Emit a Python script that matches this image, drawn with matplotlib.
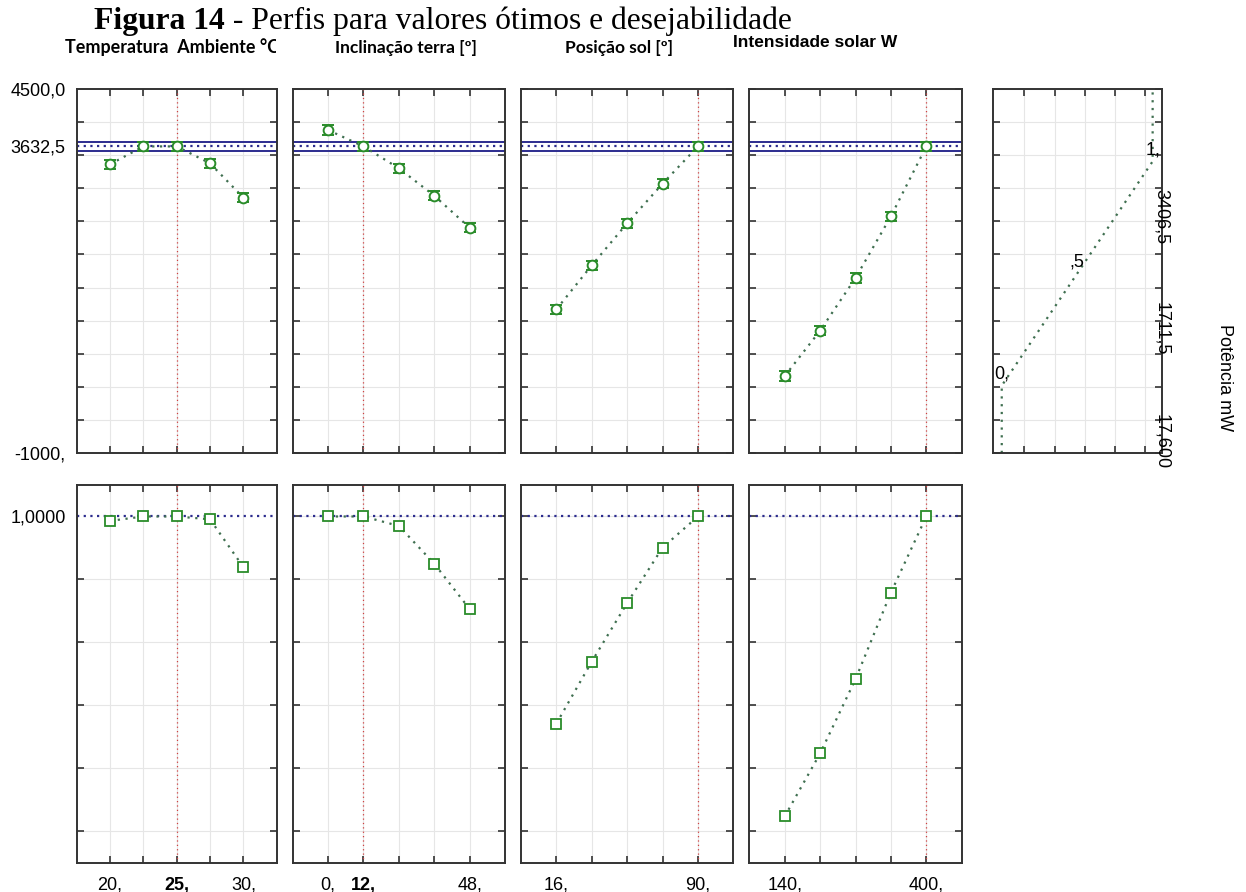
"""Figura 14 - perfis para valores otimos e desejabilidade (Statistica style)."""

import matplotlib

matplotlib.use("Agg")
import matplotlib.pyplot as plt
import numpy as np
from matplotlib.ticker import MultipleLocator
from matplotlib.transforms import Bbox, TransformedBbox, blended_transform_factory


# --- data -----------------------------------------------------------------
FACTOR_NAMES = [
    "Temperatura  Ambiente °C",
    "Inclinação terra [º]",
    "Posição sol [º]",
    "Intensidade solar W",
]

TEMP_X = [20, 22.5, 25, 27.5, 30]
INCL_X = [0, 12, 24, 36, 48]
SOL_X = [16, 34.5, 53, 71.5, 90]
INT_X = [140, 205, 270, 335, 400]

TEMP_POWER = [3362, 3632.5, 3632.5, 3377, 2858]
INCL_POWER = [3880, 3632.5, 3302, 2888, 2404]
SOL_POWER = [1171, 1836, 2471, 3069, 3632.5]
INT_POWER = [163, 848, 1644, 2576, 3632.5]
POWER_ERR = [70, 70, 70, 70, 70]

TEMP_DESIR = [0.986, 1.0, 1.0, 0.991, 0.839]
INCL_DESIR = [1.0, 1.0, 0.970, 0.850, 0.706]
SOL_DESIR = [0.342, 0.539, 0.725, 0.901, 1.0]
INT_DESIR = [0.047, 0.247, 0.483, 0.758, 1.0]

OPTIMUM_X = [25, 12, 90, 400]

TEMP_LABELS = ["20,", "", "25,", "", "30,"]
INCL_LABELS = ["0,", "12,", "", "", "48,"]
SOL_LABELS = ["16,", "", "", "", "90,"]
INT_LABELS = ["140,", "", "", "", "400,"]
BOLD_LABELS = ["25,", "12,", None, None]

POWER_LIM = (-1000, 4500)
POWER_OPT = 3632.5
POWER_CI = (3563, 3700)
POWER_TICKS = [-1000, 3632.5, 4500]
POWER_TICK_LABELS = ["-1000,", "3632,5", "4500,0"]

DESIR_LIM = (-0.1, 1.1)
DESIR_OPT = 1.0
DESIR_TICK_LABEL = "1,0000"

# desirability function of the response (right panel)
DESIR_LEVELS = [0, 0.5, 1]
DESIR_POWER = [17.6, 1711.5, 3406.5]
DESIR_LEVEL_LABELS = ["0,", ",5", "1,"]
DESIR_POWER_LABELS = ["17,600", "1711,5", "3406,5"]
DESIR_XTICKS = [0.15, 0.35, 0.55, 0.75, 0.95]

RESPONSE_NAME = "Potência mW"

# --- layout (pixels of the 1246x892 image) --------------------------------
W, H = 1246, 892
COL_LEFT = [76.7, 292.7, 521.0, 749.3]
COL_WIDTH = [200.0, 212.3, 212.3, 212.4]
TOP_ROW = (89.0, 453.0)
BOT_ROW = (485.0, 862.7)
DESIR_COL = (992.7, 169.0)

MARKER_GREEN = "#2a8c2a"
LINE_GREEN = "#3f6f50"
BLUE = "#2c2c8e"
RED = "#d04040"
GRID = "#e6e6e6"
SPINE = "#333333"

plt.rcParams["font.family"] = ["Liberation Sans", "DejaVu Sans"]


def px_rect(left, width, top, bottom):
    return [left / W, 1 - bottom / H, width / W, (bottom - top) / H]


def style_axis(axis, xticks):
    axis.set_xticks(xticks)
    axis.grid(True, axis="x", which="major", color=GRID, lw=0.8)
    axis.grid(True, axis="y", which="minor", color=GRID, lw=0.8)
    axis.set_axisbelow(True)
    axis.tick_params(which="both", direction="in", top=True, right=True,
                     length=5, width=1.2, color=SPINE, labelsize=13)
    axis.tick_params(axis="y", which="major", length=0, pad=8)
    axis.tick_params(axis="x", which="major", pad=10)
    for spine in axis.spines.values():
        spine.set_color(SPINE)
        spine.set_linewidth(1.4)


def xlim_from(xs):
    step = xs[1] - xs[0]
    return xs[0] - step, xs[-1] + step


fig = plt.figure(figsize=(W / 100, H / 100), dpi=100)

columns = [
    (TEMP_X, TEMP_POWER, TEMP_DESIR, TEMP_LABELS),
    (INCL_X, INCL_POWER, INCL_DESIR, INCL_LABELS),
    (SOL_X, SOL_POWER, SOL_DESIR, SOL_LABELS),
    (INT_X, INT_POWER, INT_DESIR, INT_LABELS),
]

for i, (xs, power, desir, labels) in enumerate(columns):
    # top row: predicted response
    top = fig.add_axes(px_rect(COL_LEFT[i], COL_WIDTH[i], *TOP_ROW))
    top.set_xlim(xlim_from(xs))
    top.set_ylim(POWER_LIM)
    top.yaxis.set_minor_locator(MultipleLocator(500))
    style_axis(top, xs)
    top.set_xticklabels([])
    if i == 0:
        top.set_yticks(POWER_TICKS, POWER_TICK_LABELS)
    else:
        top.set_yticks([])
    top.axhline(POWER_OPT, color=BLUE, lw=1.6, ls=(0, (1, 2)))
    for level in POWER_CI:
        top.axhline(level, color=BLUE, lw=1.4)
    top.axvline(OPTIMUM_X[i], color=RED, lw=0.9, ls=(0, (1, 2.5)))
    top.plot(xs, power, color=LINE_GREEN, lw=1.6, ls=(0, (1, 2.5)))
    top.errorbar(xs, power, yerr=POWER_ERR, fmt="o", ms=7, mfc="white",
                 mec=MARKER_GREEN, mew=1.4, ecolor=MARKER_GREEN,
                 elinewidth=1.3, capsize=4.5, capthick=1.3, zorder=5)

    # bottom row: desirability
    bot = fig.add_axes(px_rect(COL_LEFT[i], COL_WIDTH[i], *BOT_ROW))
    bot.set_xlim(xlim_from(xs))
    bot.set_ylim(DESIR_LIM)
    bot.yaxis.set_minor_locator(MultipleLocator(0.2))
    style_axis(bot, xs)
    bot.set_xticklabels(labels)
    for tick_label in bot.get_xticklabels():
        if tick_label.get_text() == BOLD_LABELS[i]:
            tick_label.set_fontweight("bold")
    if i == 0:
        bot.set_yticks([DESIR_OPT], [DESIR_TICK_LABEL])
    else:
        bot.set_yticks([])
    bot.axhline(DESIR_OPT, color=BLUE, lw=1.6, ls=(0, (1, 2)))
    bot.axvline(OPTIMUM_X[i], color=RED, lw=0.9, ls=(0, (1, 2.5)))
    bot.plot(xs, desir, color=LINE_GREEN, lw=1.6, ls=(0, (1, 2.5)))
    bot.plot(xs, desir, ls="none", marker="s", ms=7, mfc="white",
             mec=MARKER_GREEN, mew=1.3, zorder=5)

# right panel: desirability function of the response
right = fig.add_axes(px_rect(DESIR_COL[0], DESIR_COL[1], *TOP_ROW))
right.set_xlim(-0.06, 1.06)
right.set_ylim(POWER_LIM)
right.yaxis.set_minor_locator(MultipleLocator(500))
style_axis(right, DESIR_XTICKS)
right.set_xticklabels([])
right.set_yticks([])
curve_x = [DESIR_LEVELS[0]] + DESIR_LEVELS[::2] + [DESIR_LEVELS[-1]]
curve_y = [POWER_LIM[0], DESIR_POWER[0], DESIR_POWER[-1], POWER_LIM[1]]
right.plot(curve_x, curve_y, color=LINE_GREEN, lw=1.6, ls=(0, (1, 2.5)),
           clip_on=False)
for level, value, text in zip(DESIR_LEVELS, DESIR_POWER, DESIR_LEVEL_LABELS):
    right.annotate(text, (level, value), xytext=(0, 2), textcoords="offset points",
                   ha="center", va="bottom", fontsize=13)
edge = blended_transform_factory(right.transAxes, right.transData)
for value, text in zip(DESIR_POWER, DESIR_POWER_LABELS):
    right.annotate(text, (1, value), xycoords=edge, xytext=(0, -40),
                   textcoords="offset points", rotation=-90,
                   ha="center", va="center", fontsize=13)

fig.text(1225 / W, 1 - 378 / H, RESPONSE_NAME, rotation=-90, ha="center",
         va="center", fontsize=13)

# factor titles
title_specs = [
    (65, 53, "Lato", 12.9),
    (335, 53, "Lato", 12.5),
    (565, 53, "Lato", 12.5),
    (733, 47, "Liberation Sans", 12.5),
]
for name, (x_px, base_px, family, size) in zip(FACTOR_NAMES, title_specs):
    label = fig.text(x_px / W, 1 - base_px / H, name, family=family,
                     fontsize=size, fontweight="bold", va="baseline")
    if name == FACTOR_NAMES[0]:
        clip = Bbox.from_extents(0, 0, (COL_LEFT[0] + COL_WIDTH[0] - 1) / W, 1)
        label.set_clip_box(TransformedBbox(clip, fig.transFigure))
        label.set_clip_on(True)

# figure caption: bold part + regular part
head = fig.text(94 / W, 1 - 28.5 / H, "Figura 14", family="Liberation Serif",
                fontsize=22.8, fontweight="bold", va="baseline")
fig.canvas.draw()
head_end = head.get_window_extent().x1
fig.text(head_end / W, 1 - 28.5 / H, " - Perfis para valores ótimos e desejabilidade",
         family="Liberation Serif", fontsize=22.8, va="baseline")

fig.savefig("out.png", dpi=100)
